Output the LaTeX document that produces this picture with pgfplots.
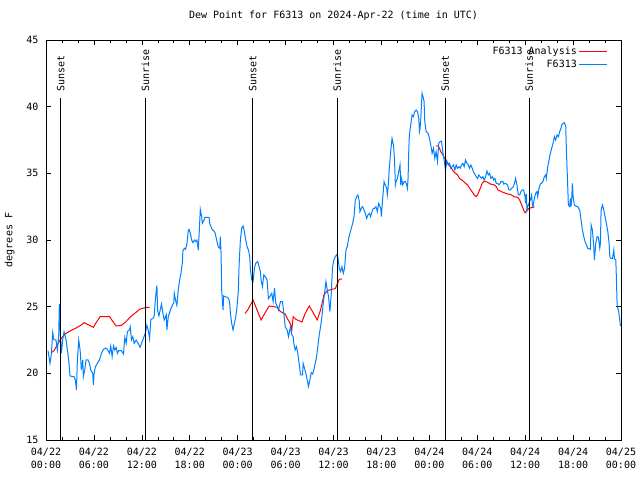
\documentclass[border=0pt]{standalone}
\usepackage{fontspec}
\setmainfont{DejaVu Sans Mono}
\usepackage{pgfplots}
\pgfplotsset{compat=1.18}
\definecolor{obsblue}{RGB}{0,128,255}
\begin{document}
\begin{tikzpicture}[font=\fontsize{10bp}{13bp}\selectfont]
\useasboundingbox (-46bp,-40bp) rectangle (594bp,440bp);
\begin{axis}[
  at={(0,0)}, anchor=south west,
  scale only axis, width=575bp, height=400bp,
  xmin=0, xmax=72, ymin=15, ymax=45,
  xtick={0,6,...,72},
  xticklabels={04/22\\00:00,04/22\\06:00,04/22\\12:00,04/22\\18:00,
               04/23\\00:00,04/23\\06:00,04/23\\12:00,04/23\\18:00,
               04/24\\00:00,04/24\\06:00,04/24\\12:00,04/24\\18:00,04/25\\00:00},
  minor x tick num=2,
  ytick={15,20,...,45},
  tick align=inside,
  major tick length=5bp, minor tick length=3bp,
  tick style={black, line width=0.6bp},
  axis line style={line width=0.8bp},
  xticklabel style={align=center, yshift=-5bp},
  yticklabel style={xshift=-4bp},
  /pgf/number format/assume math mode=true,
  title={Dew Point for F6313 on 2024-Apr-22 (time in UTC)},
  title style={at={(0.5,1)}, anchor=base, yshift=16bp},
  ylabel={degrees F},
  ylabel style={at={(axis description cs:-0.063,0.5)}, anchor=center},
  unbounded coords=jump,
  legend style={draw=none, fill=none, at={(1,1)}, anchor=north east,
                xshift=-10bp, yshift=-3bp, row sep=0pt},
  legend cell align=right,
  legend plot pos=right,
  legend image code/.code={\draw[#1] (0bp,0bp) -- (28bp,0bp);},
]
% analysis (three runs, gaps between)
\addplot[red, line width=1bp] coordinates {
(0.67,21.55)(1.0,21.7)(1.34,22.05)(1.76,22.5)(2.09,22.75)(2.51,23.0)(3.1,23.2)(3.76,23.4)
(4.35,23.6)(4.77,23.8)(5.44,23.6)(5.94,23.45)(6.27,23.8)(6.78,24.25)(7.95,24.25)(8.36,23.9)
(8.78,23.55)(9.45,23.6)(9.95,23.85)(10.7,24.3)(11.13,24.5)(11.71,24.8)(12.55,24.95)(12.97,24.95)
(18,nan)
(24.93,24.5)(25.26,24.75)(25.93,25.5)(26.43,24.75)(26.93,24.0)(27.44,24.55)(27.94,25.05)(28.52,25.0)
(28.94,24.95)(29.36,24.63)(29.95,24.45)(30.28,24.05)(30.61,23.7)(30.78,23.25)(30.95,24.25)(31.28,24.05)
(32.04,23.85)(32.46,24.5)(32.96,25.05)(33.38,24.63)(33.96,24.0)(34.38,24.75)(34.8,25.88)(35.22,26.2)
(35.8,26.3)(36.22,26.35)(36.47,26.7)(36.72,27.05)(37.06,27.08)
(42,nan)
(48.85,37.05)(49.1,37.05)(49.27,36.88)(49.44,36.62)(49.69,36.38)(49.85,36.18)(50.11,36.0)(50.44,35.63)
(50.77,35.38)(51.03,35.13)(51.53,34.88)(51.78,34.62)(52.2,34.43)(52.53,34.25)(52.78,34.13)(53.2,33.75)
(53.62,33.38)(53.87,33.25)(54.04,33.38)(54.29,33.75)(54.62,34.25)(54.87,34.43)(55.29,34.33)(55.71,34.18)
(56.13,34.13)(56.38,34.0)(56.59,33.75)(57.21,33.58)(57.8,33.45)(58.22,33.4)(58.64,33.25)(59.06,33.2)
(59.31,33.0)(59.56,32.63)(59.81,32.25)(59.97,32.05)(60.48,32.38)(60.98,32.45)(61.15,32.5)
};
\addlegendentry{F6313 Analysis}
% observations
\addplot[obsblue, line width=1bp] coordinates {
(0.25,21.70)(0.50,20.75)(0.67,21.45)(0.84,23.05)(1.00,22.5)(1.25,22.5)(1.42,21.75)(1.59,22.7)
(1.67,25.2)(1.76,23.5)(1.92,21.5)(2.09,22.5)(2.26,23.1)(2.51,22.5)(2.68,21.75)(2.84,21.0)
(3.01,19.8)(3.51,19.75)(3.68,19.5)(3.81,18.75)(3.93,21.0)(4.10,22.5)(4.27,21.75)(4.43,20.25)
(4.60,21.0)(4.68,19.75)(4.85,20.25)(5.02,21.0)(5.27,21.0)(5.44,20.75)(5.60,20.25)(5.85,20.0)
(5.94,19.13)(6.02,20.0)(6.19,20.5)(6.44,20.75)(6.69,21.0)(6.94,21.5)(7.19,21.8)(7.44,21.9)
(7.69,21.8)(7.95,21.5)(8.11,22.05)(8.28,21.25)(8.45,22.05)(8.62,21.75)(8.78,21.95)(8.95,21.5)
(9.12,21.7)(9.45,21.7)(9.70,21.45)(9.87,22.7)(10.04,22.25)(10.20,23.15)(10.45,23.25)(10.54,23.5)
(10.70,22.5)(10.87,22.75)(11.04,22.25)(11.29,22.5)(11.54,22.25)(11.79,21.95)(11.96,22.25)(12.13,22.5)
(12.30,22.8)(12.46,23.05)(12.63,23.6)(12.80,23.25)(12.97,22.6)(13.13,24.05)(13.38,24.1)(13.55,24.3)
(13.72,25.75)(13.89,26.6)(13.97,24.75)(14.14,24.3)(14.30,24.75)(14.47,25.2)(14.64,24.5)(14.80,24.0)
(15.06,24.4)(15.14,23.25)(15.31,24.25)(15.56,24.7)(15.73,25.0)(16.00,25.3)(16.06,26.0)(16.22,25.5)
(16.39,25.1)(16.56,26.25)(16.73,27.0)(16.90,27.5)(17.07,28.25)
(17.15,29.2)(17.32,29.38)(17.48,29.3)(17.65,29.75)(17.82,30.75)(17.90,30.8)(18.07,30.5)(18.24,30.0)
(18.40,29.8)(18.57,30.0)(18.74,29.88)(18.90,30.0)(19.07,29.25)(19.24,31.25)(19.32,32.3)(19.49,31.75)
(19.57,31.25)(19.74,31.45)(19.91,31.7)(20.41,31.7)(20.49,31.25)(20.66,31.0)(20.83,30.75)(21.00,30.7)
(21.16,30.55)(21.33,30.1)(21.58,29.45)(21.75,29.38)(21.83,30.25)(21.92,29.0)(22.00,26.25)(22.17,24.75)
(22.25,25.8)(22.42,25.75)(22.75,25.7)(22.92,25.5)(23.00,25.25)(23.09,24.5)(23.25,23.75)(23.42,23.25)
(23.59,23.75)(23.76,24.25)(23.92,25.0)(24.09,26.25)(24.17,28.0)(24.34,30.0)(24.51,30.9)(24.68,31.05)
(24.84,30.62)(25.01,30.0)(25.18,29.5)(25.35,29.25)(25.51,28.75)(25.60,27.75)(25.76,27.0)(25.93,26.88)
(26.10,27.9)(26.26,28.25)(26.52,28.38)(26.68,28.0)(26.85,27.62)(26.93,27.0)(27.10,26.5)(27.27,27.38)
(27.52,27.2)(27.69,27.0)(27.85,25.6)(28.02,25.75)
(28.27,26.0)(28.44,25.38)(28.61,26.38)(28.77,25.25)(28.94,25.05)(29.11,24.75)(29.36,25.38)(29.61,25.38)
(29.78,24.5)(29.95,23.5)(30.20,23.25)(30.36,22.75)(30.61,23.5)(30.78,22.88)(30.95,22.75)(31.03,22.25)
(31.20,21.75)(31.37,22.0)(31.53,21.5)(31.70,20.75)(31.87,19.88)(32.12,19.88)(32.20,20.75)(32.37,20.38)
(32.54,20.0)(32.71,19.5)(32.87,19.0)(33.04,19.5)(33.21,20.05)(33.38,19.95)(33.54,20.25)(33.71,20.75)
(33.88,21.25)(34.04,22.0)(34.21,22.88)(34.38,23.5)(34.55,24.25)(34.71,25.25)(34.88,26.0)(35.05,26.88)
(35.22,26.25)(35.38,25.75)(35.55,24.63)(35.72,26.0)(35.88,28.0)(36.05,28.5)(36.22,28.75)(36.39,28.88)
(36.55,28.7)(36.72,27.88)(36.89,27.63)(37.06,28.0)(37.23,27.5)(37.39,27.88)(37.56,29.25)(37.73,29.5)
(37.90,30.13)(38.06,30.5)(38.23,30.88)(38.40,31.25)(38.57,31.75)(38.73,33.0)(38.90,33.25)(39.06,33.38)
(39.23,32.88)(39.31,32.12)(39.48,32.38)(39.65,32.5)(39.82,32.25)(39.98,32.0)(40.15,31.62)(40.32,31.88)
(40.49,32.0)(40.65,31.75)(40.82,32.13)(40.99,32.38)(41.15,32.38)(41.32,32.5)(41.49,32.13)(41.66,32.75)
(41.82,32.5)
(41.91,32.38)(41.99,31.75)(42.16,33.13)(42.33,34.38)(42.49,34.13)(42.66,33.88)(42.74,33.38)(42.83,33.88)
(42.99,35.38)(43.16,36.62)(43.33,37.63)(43.50,37.13)(43.58,36.62)(43.66,35.63)(43.75,34.13)(43.83,34.38)
(44.00,34.63)(44.17,35.13)(44.33,35.63)(44.42,34.13)(44.50,34.63)(44.67,34.13)(44.84,34.38)(45.00,34.38)
(45.17,34.13)(45.25,33.88)(45.34,34.63)(45.42,36.62)(45.50,37.88)(45.67,38.63)(45.84,39.38)(46.00,39.25)
(46.17,39.63)(46.34,39.75)(46.51,39.63)(46.68,39.13)(46.76,38.13)(46.84,38.38)(46.93,39.13)(47.09,41.0)
(47.26,40.63)(47.34,40.38)(47.43,38.88)(47.60,38.13)(47.85,38.0)(48.01,37.63)(48.18,37.13)(48.35,36.5)
(48.52,36.88)(48.68,36.13)(48.85,36.62)(49.02,35.88)(49.18,37.25)(49.35,37.38)(49.52,37.42)(49.69,36.62)
(49.85,36.0)(50.02,35.25)(50.19,35.88)(50.36,35.63)(50.53,35.75)(50.69,35.38)(50.86,35.5)(51.03,35.63)
(51.20,35.25)(51.36,35.63)(51.53,35.38)(51.70,35.5)(51.86,35.38)(52.03,35.63)(52.20,35.75)(52.36,35.5)
(52.53,36.0)(52.70,35.75)(52.87,35.63)(53.03,35.38)(53.20,35.63)(53.37,35.38)(53.53,35.12)(53.70,34.93)
(53.87,34.75)(54.04,34.62)(54.20,34.88)(54.37,34.75)(54.54,34.62)(54.71,34.75)(54.87,34.5)(55.04,34.75)
(55.21,35.18)(55.38,34.88)(55.54,35.0)(55.71,34.62)(55.88,34.75)(56.05,34.5)(56.21,34.62)(56.38,34.25)
(56.55,34.25)(56.71,34.13)(56.88,34.25)
(56.96,34.38)(57.21,34.38)(57.30,34.2)(57.55,34.25)(57.80,34.12)(57.97,33.75)(58.13,33.75)(58.30,33.88)
(58.47,33.95)(58.64,34.2)(58.80,34.62)(58.97,34.12)(59.14,33.38)(59.31,33.38)(59.47,33.63)(59.64,33.75)
(59.81,33.75)(59.97,33.3)(60.06,32.75)(60.14,33.45)(60.23,32.25)(60.31,32.5)(60.48,32.75)(60.64,33.0)
(60.81,33.38)(60.90,32.62)(60.98,32.5)(61.15,33.12)(61.31,33.5)(61.48,33.63)(61.57,33.25)(61.73,33.88)
(61.90,34.2)(62.07,34.25)(62.23,34.38)(62.40,34.75)(62.57,34.88)(62.65,34.62)(62.82,35.5)(62.99,36.0)
(63.15,36.5)(63.32,36.88)(63.49,37.25)(63.66,37.75)(63.82,37.5)(63.99,37.88)(64.16,37.75)(64.32,38.13)
(64.49,38.38)(64.58,38.63)(64.74,38.75)(64.91,38.8)(65.08,38.5)(65.16,36.75)(65.33,34.0)(65.41,32.62)
(65.58,32.5)(65.66,33.12)(65.75,32.5)(65.83,33.12)(65.91,34.25)(66.00,33.25)(66.16,32.62)(66.33,32.55)
(66.58,32.5)(66.83,32.25)(67.00,31.5)(67.17,30.75)(67.34,30.25)(67.50,29.88)(67.67,29.63)(67.84,29.38)
(68.17,29.3)(68.26,31.13)(68.42,30.75)(68.59,29.5)(68.67,28.5)(68.84,29.75)(69.00,30.25)(69.17,30.2)
(69.34,29.38)(69.42,29.75)(69.51,32.25)(69.68,32.62)(69.84,32.25)(70.01,31.75)(70.18,31.2)(70.35,30.62)
(70.51,29.75)(70.60,28.75)(70.76,28.6)(70.93,28.6)(71.10,29.25)(71.18,28.6)(71.35,28.5)(71.43,27.0)
(71.52,25.0)(71.68,24.75)(71.85,24.0)(71.93,23.55)
};
\addlegendentry{F6313}
% sunset / sunrise markers
\addplot[black, line width=0.8bp, forget plot] coordinates {(1.84,15) (1.84,40.63)};
\addplot[black, line width=0.8bp, forget plot] coordinates {(12.46,15) (12.46,40.63)};
\addplot[black, line width=0.8bp, forget plot] coordinates {(25.9,15) (25.9,40.63)};
\addplot[black, line width=0.8bp, forget plot] coordinates {(36.47,15) (36.47,40.63)};
\addplot[black, line width=0.8bp, forget plot] coordinates {(49.98,15) (49.98,40.63)};
\addplot[black, line width=0.8bp, forget plot] coordinates {(60.5,15) (60.5,40.63)};
\node[rotate=90, anchor=west, inner sep=0pt] at (axis cs:1.84,41.13) {Sunset};
\node[rotate=90, anchor=west, inner sep=0pt] at (axis cs:12.46,41.13) {Sunrise};
\node[rotate=90, anchor=west, inner sep=0pt] at (axis cs:25.9,41.13) {Sunset};
\node[rotate=90, anchor=west, inner sep=0pt] at (axis cs:36.47,41.13) {Sunrise};
\node[rotate=90, anchor=west, inner sep=0pt] at (axis cs:49.98,41.13) {Sunset};
\node[rotate=90, anchor=west, inner sep=0pt] at (axis cs:60.5,41.13) {Sunrise};
\end{axis}
\end{tikzpicture}
\end{document}
